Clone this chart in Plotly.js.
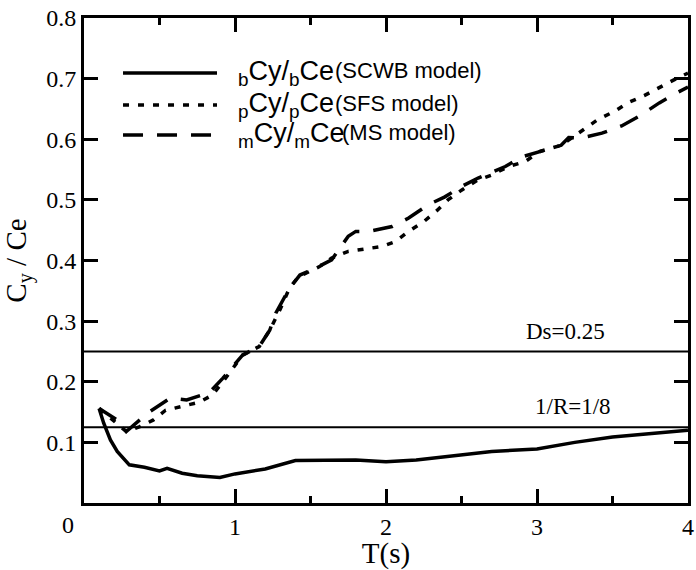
<!DOCTYPE html>
<html>
<head>
<meta charset="utf-8">
<script src="https://cdn.plot.ly/plotly-3.0.1.min.js"></script>
<style>html,body{margin:0;padding:0;background:#fff;}#chart{width:696px;height:570px;}</style>
</head>
<body>
<div id="chart"></div>
<script>
// SCWB model (solid)
const tSCWB = [0.1,0.13,0.175,0.22,0.3,0.4,0.5,0.55,0.65,0.75,0.9,1.0,1.2,1.3,1.4,1.8,2.0,2.2,2.5,2.7,3.0,3.25,3.5,4.0];
const ySCWB = [0.156,0.132,0.104,0.085,0.063,0.059,0.053,0.057,0.049,0.045,0.042,0.048,0.056,0.063,0.070,0.071,0.068,0.071,0.079,0.085,0.089,0.100,0.109,0.120];
// SFS model (dotted)
const tSFS = [0.1,0.2,0.28,0.37,0.46,0.54,0.64,0.76,0.85,0.92,1.05,1.16,1.23,1.3,1.36,1.42,1.56,1.64,1.75,1.87,1.97,2.06,2.15,2.25,2.34,2.41,2.5,2.61,2.70,2.81,2.92,3.02,3.16,3.32,3.40,3.52,3.60,3.71,3.82,3.93,4.0];
const ySFS = [0.156,0.135,0.118,0.126,0.137,0.153,0.159,0.166,0.178,0.200,0.244,0.258,0.285,0.320,0.354,0.373,0.390,0.404,0.415,0.420,0.423,0.431,0.448,0.464,0.483,0.500,0.516,0.533,0.541,0.555,0.563,0.580,0.590,0.618,0.632,0.647,0.660,0.672,0.687,0.701,0.709];
// MS model (dashed)
const tMS = [0.1,0.22,0.28,0.42,0.57,0.68,0.83,0.92,1.05,1.16,1.23,1.27,1.36,1.43,1.53,1.64,1.75,1.80,1.89,2.04,2.15,2.28,2.39,2.50,2.61,2.79,2.90,3.02,3.16,3.21,3.29,3.43,3.56,3.69,3.81,3.93,4.0];
const yMS = [0.156,0.137,0.118,0.148,0.173,0.170,0.182,0.206,0.244,0.258,0.285,0.313,0.354,0.376,0.387,0.401,0.440,0.448,0.448,0.456,0.470,0.492,0.505,0.522,0.536,0.555,0.571,0.580,0.590,0.603,0.602,0.610,0.622,0.640,0.660,0.677,0.686];
// reference levels
const refX = [0, 4];
const dsLevel = 0.25;
const rLevel = 0.125;
const dsLabel = 'Ds=0.25';
const rLabel = '1/R=1/8';
// ticks and titles
const xTickVals = [1,2,3,4];
const yTickVals = [0.1,0.2,0.3,0.4,0.5,0.6,0.7,0.8];
const xTitle = 'T(s)';
const yTitle = 'C<sub>y</sub> / Ce';
const legendRatios = ['<sub>b</sub>Cy/<sub>b</sub>Ce', '<sub>p</sub>Cy/<sub>p</sub>Ce', '<sub>m</sub>Cy/<sub>m</sub>Ce'];
const legendModels = ['(SCWB model)', '(SFS model)', '(MS model)'];

const serif = 'Liberation Serif';
const sans = 'Liberation Sans';
const dashes = ['solid', '6px,9px', '20px,14px'];

const traces = [
  {x: refX, y: [dsLevel, dsLevel], mode: 'lines', line: {color: 'black', width: 2}, showlegend: false},
  {x: refX, y: [rLevel, rLevel], mode: 'lines', line: {color: 'black', width: 2}, showlegend: false},
  {x: tSCWB, y: ySCWB, mode: 'lines', name: legendModels[0], line: {color: 'black', width: 3.5, dash: dashes[0]}, showlegend: false},
  {x: tSFS, y: ySFS, mode: 'lines', name: legendModels[1], line: {color: 'black', width: 3.5, dash: dashes[1]}, showlegend: false},
  {x: tMS, y: yMS, mode: 'lines', name: legendModels[2], line: {color: 'black', width: 3.5, dash: dashes[2]}, showlegend: false}
];

const legRowsY = [0.8866, 0.8206, 0.7588];
const modelX = [0.412, 0.412, 0.424];
const shapes = [];
const annotations = [];
legRowsY.forEach((yy, i) => {
  shapes.push({type: 'line', xref: 'paper', yref: 'paper', x0: 0.0646, x1: 0.2202, y0: yy, y1: yy,
    line: {color: 'black', width: 3.5, dash: dashes[i]}});
  annotations.push({xref: 'paper', yref: 'paper', x: 0.252, y: yy, xanchor: 'left', yanchor: 'middle',
    text: legendRatios[i], showarrow: false, font: {family: sans, size: 27, color: 'black'}});
  annotations.push({xref: 'paper', yref: 'paper', x: modelX[i], y: yy, yshift: 2, xanchor: 'left', yanchor: 'middle',
    text: legendModels[i], showarrow: false, font: {family: sans, size: 22, color: 'black'}});
});
annotations.push(
  {x: 3.19, y: dsLevel, yshift: 20, text: dsLabel, showarrow: false, xanchor: 'center', yanchor: 'middle',
    font: {family: serif, size: 23, color: 'black'}},
  {x: 3.24, y: rLevel, yshift: 21, text: rLabel, showarrow: false, xanchor: 'center', yanchor: 'middle',
    font: {family: serif, size: 23, color: 'black'}},
  {xref: 'paper', yref: 'paper', x: -0.0265, y: -0.045, text: '0', showarrow: false,
    xanchor: 'center', yanchor: 'middle', font: {family: serif, size: 24, color: 'black'}}
);

const layout = {
  width: 696, height: 570,
  margin: {l: 84, r: 8, t: 18, b: 67},
  showlegend: false,
  font: {family: serif, size: 24, color: 'black'},
  xaxis: {range: [0, 4], tickvals: xTickVals, showline: true, linewidth: 2.5, linecolor: 'black', mirror: 'ticks',
    ticks: 'inside', ticklen: 14, tickwidth: 2.5, tickcolor: 'black', showgrid: false, zeroline: false,
    minor: {dtick: 0.5, ticks: 'inside', ticklen: 7, tickwidth: 2.5, tickcolor: 'black'},
    title: {text: xTitle}},
  yaxis: {range: [0, 0.8], tickvals: yTickVals, showline: true, linewidth: 3, linecolor: 'black', mirror: 'ticks',
    ticks: 'inside', ticklen: 14, tickwidth: 2.5, tickcolor: 'black', showgrid: false, zeroline: false,
    title: {text: yTitle}},
  shapes: shapes,
  annotations: annotations
};

Plotly.newPlot('chart', traces, layout, {displayModeBar: false});
</script>
</body>
</html>
